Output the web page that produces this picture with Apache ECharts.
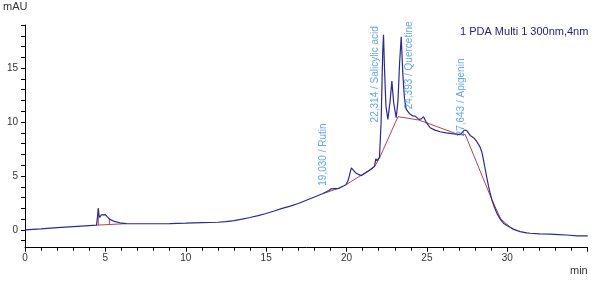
<!DOCTYPE html>
<html>
<head>
<meta charset="utf-8">
<script src="https://cdn.jsdelivr.net/npm/echarts@6/dist/echarts.min.js"></script>
<style>html,body{margin:0;padding:0;background:#fff}#c{width:592px;height:282px}</style>
</head>
<body>
<div id="c"></div>
<script>
// Chromatogram signal (time in min, absorbance in mAU)
const times = [0,1,2,3,4,4.45,4.5,4.53,4.56,4.6,4.65,4.75,4.87,5.0,5.25,5.5,5.9,6.3,7,8,9,10,11,12,12.5,13,13.5,14,14.5,15,15.5,16,16.5,17,17.5,18,18.5,18.9,19.03,19.15,19.5,19.97,20.1,20.3,20.4,20.6,20.9,21.2,21.5,21.74,21.82,21.9,22.05,22.15,22.25,22.3,22.36,22.45,22.57,22.7,22.82,22.93,23.09,23.2,23.3,23.4,23.5,23.6,23.71,23.9,24.13,24.27,24.35,24.5,24.65,24.79,24.95,25.2,25.5,25.82,26.2,26.45,26.8,27.0,27.15,27.32,27.48,27.69,27.9,28.1,28.3,28.42,28.53,28.63,28.73,28.83,28.94,29.04,29.2,29.35,29.56,29.76,30.0,30.18,30.4,30.8,31.2,31.43,32.0,32.67,33.2,33.7,34.33,35.0];
const signal = [0,0.1,0.21,0.31,0.4,0.44,0.45,1.5,2.0,1.4,1.15,1.4,1.52,1.42,1.0,0.82,0.66,0.59,0.57,0.57,0.58,0.62,0.67,0.71,0.76,0.86,1.0,1.15,1.33,1.52,1.75,2.0,2.2,2.45,2.75,3.05,3.35,3.65,3.8,3.7,3.85,4.19,4.6,5.75,5.6,5.25,5.03,5.3,5.6,5.9,6.6,6.4,6.75,10,16.5,18.1,15,11.5,10.25,11.8,13.8,11.8,10.4,12,15.5,17.9,14.5,12.2,11.2,10.8,10.56,10.55,10.6,10.25,10.3,10.5,10.0,9.47,9.25,9.1,9.0,8.95,8.87,8.85,8.95,9.26,9.2,8.76,8.55,8.2,7.7,7.2,6.4,5.6,4.8,4.05,3.35,2.8,2.1,1.55,1.0,0.62,0.38,0.25,0.05,-0.16,-0.28,-0.31,-0.37,-0.4,-0.43,-0.47,-0.55,-0.56];

// Integration baseline segments (null breaks the line)
const baseTimes = [4.45,6.3,null,18.6,19.5,null,19.97,21.74,22.09,23.2,24.45,24.95,27.0,27.38,29.04,29.6,30.3,null,4.56,4.56,null,5.25,5.25];
const baseValues = [0.44,0.58,null,3.4,3.85,null,4.19,5.85,6.8,10.5,10.2,9.95,8.82,8.85,2.8,1.0,0.1,null,0.46,2.0,null,0.5,1.0];

// Peak annotations
const peakTimes = [19.03,22.314,24.393,27.643];
const peakNames = ['19,030 / Rutin','22,314 / Salicylic acid','24,393 / Quercetine','27,643 / Apigenin'];
const labelBase = [4.1,9.97,11.18,8.67];

// Axis ticks
const yLabelValues = [0,5,10,15];
const yTickValues = [-1,0,1,2,3,4,5,6,7,8,9,10,11,12,13,14,15,16,17,18,19];

const FONT = 'Liberation Sans, Arial, sans-serif';
const labelShift = 0.5;

const chart = echarts.init(document.getElementById('c'), null, {renderer:'canvas'});
chart.setOption({
  animation:false,
  grid:{left:25,right:4.3,top:25,bottom:34.3,containLabel:false},
  xAxis:{
    type:'value',min:0,max:35,interval:5,
    axisLine:{show:true,onZero:false,lineStyle:{color:'#000',width:1}},
    axisTick:{show:true,length:4,lineStyle:{color:'#000'}},
    minorTick:{show:true,splitNumber:5,length:3,lineStyle:{color:'#000'}},
    splitLine:{show:false},minorSplitLine:{show:false},
    axisLabel:{color:'#333',fontSize:10,fontFamily:FONT,margin:6,
      formatter:v=>v===35?'':String(v)}
  },
  yAxis:{
    type:'value',min:-1.65,max:19,
    axisLine:{show:true,onZero:false,lineStyle:{color:'#000',width:1}},
    axisTick:{show:true,length:4,customValues:yTickValues,lineStyle:{color:'#000'}},
    splitLine:{show:false},
    axisLabel:{color:'#333',fontSize:10,fontFamily:FONT,margin:7,customValues:yLabelValues}
  },
  series:[
    {type:'line',data:baseTimes.map((t,i)=>t===null?[null,null]:[t,baseValues[i]]),
     connectNulls:false,showSymbol:false,symbol:'none',
     lineStyle:{color:'#a84858',width:1},z:2},
    {type:'line',data:times.map((t,i)=>[t,signal[i]]),showSymbol:false,symbol:'none',
     lineStyle:{color:'#2b2b8c',width:1.2},z:3},
    {type:'scatter',symbolSize:0,silent:true,z:4,
     data:peakTimes.map((t,i)=>({value:[t-labelShift,labelBase[i]],name:peakNames[i]})),
     label:{show:true,position:[0,0],rotate:90,align:'left',verticalAlign:'middle',
       formatter:p=>p.name,color:'#3f8fe0',fontSize:10,fontFamily:FONT}}
  ],
  graphic:[
    {type:'text',left:3,top:1,style:{text:'mAU',fontSize:11,fontFamily:FONT,fill:'#333'}},
    {type:'text',left:570,top:265,style:{text:'min',fontSize:11,fontFamily:FONT,fill:'#333'}},
    {type:'text',left:460,top:26,style:{text:'1 PDA Multi 1 300nm,4nm',fontSize:11,fontFamily:FONT,fill:'#1e1e7a'}}
  ]
});
</script>
</body>
</html>
